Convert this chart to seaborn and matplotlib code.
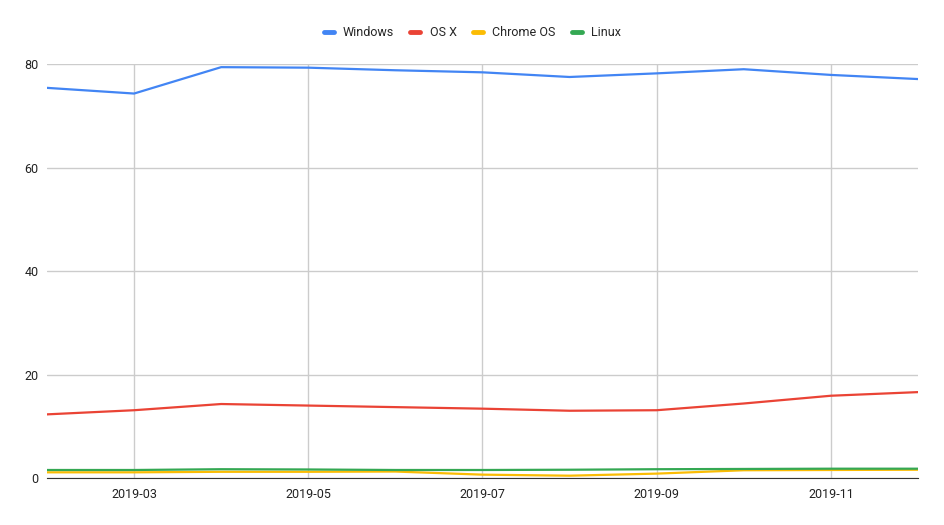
import matplotlib
matplotlib.use('Agg')
from matplotlib import pyplot as plt
import pandas as pd
import seaborn as sns

# Monthly desktop OS share, 2019
months = ['2019-02', '2019-03', '2019-04', '2019-05', '2019-06', '2019-07',
          '2019-08', '2019-09', '2019-10', '2019-11', '2019-12']
windows = [75.4, 74.3, 79.4, 79.3, 78.8, 78.4, 77.5, 78.2, 79.0, 77.9, 77.1]
osx = [12.3, 13.1, 14.3, 14.0, 13.7, 13.4, 13.0, 13.1, 14.4, 15.9, 16.6]
chrome_os = [1.1, 1.1, 1.2, 1.2, 1.25, 0.65, 0.45, 0.85, 1.5, 1.55, 1.6]
linux = [1.55, 1.55, 1.7, 1.65, 1.55, 1.55, 1.6, 1.7, 1.75, 1.8, 1.8]

series = ['Windows', 'OS X', 'Chrome OS', 'Linux']
colors = ['#4285F4', '#EA4335', '#FBBC04', '#34A853']

# months are spaced evenly in the reference, so plot against an index
df = pd.DataFrame({'Idx': range(len(months)),
                   'Windows': windows, 'OS X': osx,
                   'Chrome OS': chrome_os, 'Linux': linux})
long = df.melt(id_vars='Idx', var_name='OS', value_name='Share')

sns.set_style('white')
plt.rcParams['font.family'] = ['Roboto', 'DejaVu Sans']

fig = plt.figure(figsize=(9.45, 5.25), dpi=100)
ax = fig.add_axes([0.0497, 0.0895, 0.9217, 0.7885])

sns.lineplot(data=long, x='Idx', y='Share', hue='OS', hue_order=series,
             palette=colors, linewidth=1.6, ax=ax, legend=False)

# Axis styling
ax.set_xlim(0, len(months) - 1)
ax.set_ylim(0, 80)
ax.set_yticks([0, 20, 40, 60, 80])
tick_idx = [1, 3, 5, 7, 9]
ax.set_xticks(tick_idx)
ax.set_xticklabels([months[i] for i in tick_idx])
ax.grid(True, color='#cccccc', linewidth=1)
ax.set_axisbelow(True)
for s in ['top', 'right', 'left']:
    ax.spines[s].set_visible(False)
ax.spines['bottom'].set_color('#333333')
ax.tick_params(axis='both', length=0, labelsize=9, colors='#222222')
ax.tick_params(axis='x', pad=7)
ax.tick_params(axis='y', pad=6)
ax.set_xlabel('')
ax.set_ylabel('')

# Legend at top
handles = [plt.Line2D([], [], color=c, linewidth=3.5) for c in colors]
fig.legend(handles, series, loc='center', bbox_to_anchor=(0.5, 0.938), ncol=4,
           frameon=False, fontsize=9, handlelength=0.8, handletextpad=0.75,
           columnspacing=1.3)

plt.savefig('out.png', dpi=100)
